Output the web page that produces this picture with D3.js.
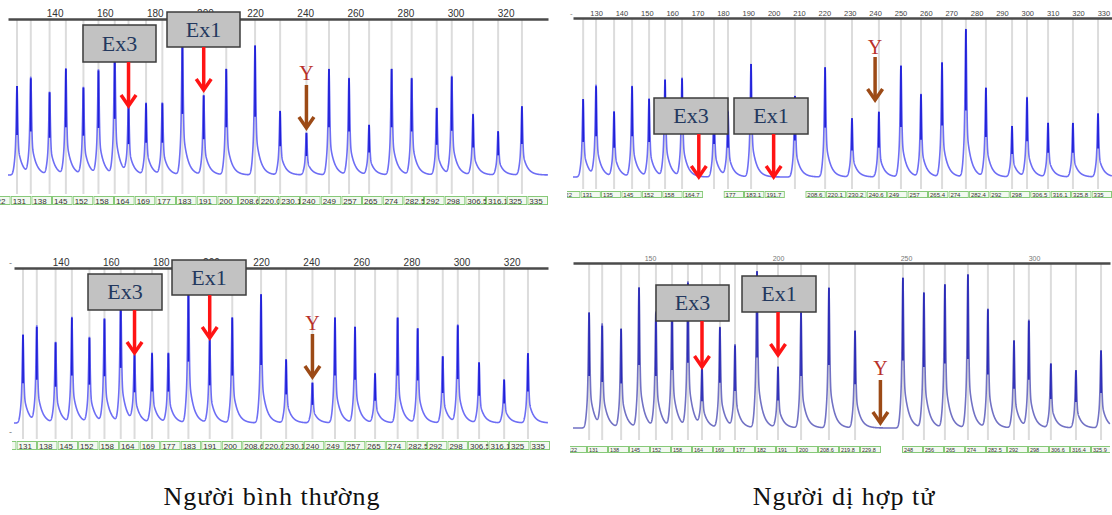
<!DOCTYPE html>
<html>
<head>
<meta charset="utf-8">
<script src="https://cdn.jsdelivr.net/npm/d3@7"></script>
<style>
body { margin: 0; background: #fff; }
svg { display: block; }
</style>
</head>
<body>
<svg id="chart" width="1112" height="515"></svg>
<script>
// peak sizes (bp) and peak heights (% of the panel height)
var normalSizes = [125, 130.5, 138, 144.5, 151.5, 157.5, 164, 169.5, 176.5, 183, 191, 199.5, 208.5, 220, 230, 240.5, 249.5, 257.5, 265.5, 274.5, 282.5, 292.5, 298.5, 307, 317, 326.5];
var normalHeightsTop = [57, 62, 53, 68, 56, 67, 80, 44, 46, 46, 87, 51, 68, 83, 41, 27, 68, 62, 32, 68, 62, 43, 63, 39, 28, 44];
var normalHeightsBottom = [57, 62, 52, 68, 55, 67, 79, 44, 45, 45, 88, 54, 68, 83, 41, 26, 68, 62, 32, 68, 61, 43, 63, 39, 28, 45];

var hetSizesTop = [124.9, 130, 137.1, 144.2, 150.9, 157.2, 163.9, 176.5, 182, 191.1, 208.4, 220.3, 230.9, 241.5, 250.2, 258.1, 266.4, 275.8, 283.7, 294, 299.9, 308.2, 318, 327.9];
var hetHeightsTop = [49, 57, 41, 57, 49, 61, 62, 46, 41, 71, 51, 69, 37, 41, 70, 52, 72, 93, 56, 32, 50, 34, 34, 40];

var hetSizesBottom = [126.2, 131.3, 138.7, 145.7, 152.3, 158.6, 164.8, 170.3, 177.3, 183.2, 191.8, 200, 209, 219.9, 230.1, 248.8, 257, 265.2, 274.2, 282, 292.2, 298, 306.6, 316.4, 326.2];
var hetHeightsBottom = [70, 62, 60, 85, 70, 78, 88, 36, 61, 50, 95, 37, 70, 85, 59, 91, 82, 87, 93, 72, 53, 65, 39, 35, 47];

// size call boxes under each trace ("" = no call)
var normalLabels = ["122", "131", "138", "145", "152", "158", "164", "169", "177", "183", "191", "200", "208.6", "220.0", "230.1", "240", "249", "257", "265", "274", "282.5", "292", "298", "306.5", "316.1", "325", "335"];
var hetLabelsTop = ["122", "131", "135", "145", "152", "158", "164.7", "", "177", "183.1", "191.7", "", "208.6", "220.1", "230.2", "240.6", "249", "257", "265.4", "274", "282.4", "292", "298", "306.5", "316.1", "325.8", "335"];
var hetLabelsBottom = ["122", "131", "138", "145", "152", "158", "164", "169", "177", "182", "191", "200", "208.6", "219.8", "229.8", "", "248", "256", "265", "274", "282.5", "292", "298", "306.6", "316.4", "325.9"];

var normalTicks = [140, 160, 180, 200, 220, 240, 260, 280, 300, 320];
var hetTicksTop = [130, 140, 150, 160, 170, 180, 190, 200, 210, 220, 230, 240, 250, 260, 270, 280, 290, 300, 310, 320, 330];
var hetTicksBottom = [150, 200, 250, 300];

var captions = ["Người bình thường", "Người dị hợp tử"];

var panels = [
	{sizes: normalSizes, heights: normalHeightsTop, labels: normalLabels, ticks: normalTicks,
	 domain: [121.4, 336.9], x0: 8, x1: 548, axisY: 19, base: 175, gridBottom: 194,
	 rowY: 196, rowH: 9, rowX: [-10, 548], clip: [0, 548], tickFont: 10, tickColor: "#333", labelFont: 8,
	 light: "#6e6ef4", dark: "#2020d8",
	 notes: [{t: "Ex3", bp: 169.5, box: [83, 25, 73, 37], a: [62, 106]},
	         {t: "Ex1", bp: 199.5, box: [167, 12, 73, 35], a: [47, 90]},
	         {t: "Y", bp: 240.5, ty: 73, a: [85, 128]}]},
	{sizes: hetSizesTop, heights: hetHeightsTop, labels: hetLabelsTop, ticks: hetTicksTop,
	 domain: [120.9, 333.4], x0: 573, x1: 1112, axisY: 18, base: 177, gridBottom: 189,
	 rowY: 191, rowH: 7, rowX: [560, 1112], clip: [567, 1112], tickFont: 7.5, tickColor: "#444", labelFont: 6,
	 light: "#6e6ef4", dark: "#2020d8",
	 notes: [{t: "Ex3", bp: 170.5, box: [654, 98, 74, 36], a: [134, 177]},
	         {t: "Ex1", bp: 200, box: [734, 98, 74, 36], a: [134, 177]},
	         {t: "Y", bp: 240, ty: 47, a: [57, 100]}]},
	{sizes: normalSizes, heights: normalHeightsBottom, labels: normalLabels, ticks: normalTicks,
	 domain: [121.4, 334.5], x0: 14, x1: 548, axisY: 268, base: 423, gridBottom: 439,
	 rowY: 441, rowH: 9, rowX: [-4, 550], clip: [12, 550], tickFont: 10, tickColor: "#333", labelFont: 8,
	 light: "#6e6ef4", dark: "#2020d8",
	 notes: [{t: "Ex3", bp: 169.5, box: [88, 274, 74, 36], a: [310, 353]},
	         {t: "Ex1", bp: 199.5, box: [172, 260, 74, 35], a: [295, 338]},
	         {t: "Y", bp: 240.5, ty: 323, a: [334, 377]}]},
	{sizes: hetSizesBottom, heights: hetHeightsBottom, labels: hetLabelsBottom, ticks: hetTicksBottom,
	 domain: [119.9, 329.7], x0: 573, x1: 1110, axisY: 263, base: 428, gridBottom: 440,
	 rowY: 446, rowH: 7, rowX: [566, 1112], clip: [570, 1110], tickFont: 7, tickColor: "#777", labelFont: 5.5,
	 light: "#7272c4", dark: "#2b2bb8",
	 notes: [{t: "Ex3", bp: 170.3, box: [656, 285, 73, 36], a: [321, 367]},
	         {t: "Ex1", bp: 200, box: [742, 276, 74, 36], a: [312, 355]},
	         {t: "Y", bp: 240, ty: 368, a: [380, 423]}]}
];

var svg = d3.select("#chart");

// one peak of the trace, d in pixels from the peak centre
function peakShape(d) {
	var core = Math.exp(-(d * d) / (2 * 0.7 * 0.7));
	var body = d < 0 ? Math.exp(-(d * d) / (2 * 1.9 * 1.9)) : Math.exp(-d / 4.5);
	return 0.62 * core + 0.38 * body;
}

function drawPanel(p) {
	var x = d3.scaleLinear().domain(p.domain).range([p.x0, p.x1]);
	var y = d3.scaleLinear().domain([0, 100]).range([p.base, p.axisY]);
	var k = (p.x1 - p.x0) / (p.domain[1] - p.domain[0]);
	var g = svg.append("g");

	// grey size grid
	g.selectAll(".grid")
		.data(p.sizes)
		.enter().append("line")
		.attr("x1", function(d) { return x(d); })
		.attr("x2", function(d) { return x(d); })
		.attr("y1", p.axisY + 1)
		.attr("y2", p.gridBottom)
		.attr("stroke", "#dcdcdc")
		.attr("stroke-width", 2);

	// trace
	var pts = [];
	for (var b = p.domain[0]; b <= p.domain[1]; b += 0.05) {
		var v = 0;
		for (var i = 0; i < p.sizes.length; i++) {
			var d = (b - p.sizes[i]) * k;
			if (d > -10 && d < 40) v += p.heights[i] * peakShape(d);
		}
		pts.push([b, v]);
	}
	g.append("path")
		.datum(pts)
		.attr("fill", "none")
		.attr("stroke", p.light)
		.attr("stroke-width", 1.6)
		.attr("d", d3.line()
			.x(function(d) { return x(d[0]); })
			.y(function(d) { return y(d[1]); }));

	// dark peak tips
	g.selectAll(".tip")
		.data(p.sizes)
		.enter().append("line")
		.attr("x1", function(d) { return x(d); })
		.attr("x2", function(d) { return x(d); })
		.attr("y1", function(d, i) { return y(p.heights[i]); })
		.attr("y2", function(d, i) { return y(p.heights[i] * 0.45); })
		.attr("stroke", p.dark)
		.attr("stroke-width", 1.8);

	// top axis
	var axis = g.append("g")
		.attr("transform", "translate(0," + p.axisY + ")")
		.call(d3.axisTop(x).tickValues(p.ticks).tickSize(0).tickSizeOuter(0).tickPadding(2));
	axis.select(".domain").attr("stroke", "#4a4a4a").attr("stroke-width", 2.5);
	axis.selectAll("text")
		.attr("font-family", "Liberation Sans, Arial, sans-serif")
		.attr("font-size", p.tickFont)
		.attr("fill", p.tickColor);

	// size call row
	var row = g.append("svg")
		.attr("x", p.clip[0]).attr("y", p.rowY - 1)
		.attr("width", p.clip[1] - p.clip[0]).attr("height", p.rowH + 2);
	var band = d3.scaleBand()
		.domain(d3.range(p.labels.length))
		.range([p.rowX[0] - p.clip[0], p.rowX[1] - p.clip[0]]);
	var cells = row.selectAll(".cell")
		.data(p.labels)
		.enter().filter(function(d) { return d !== ""; })
		.append("svg")
		.attr("x", function(d) { return band(p.labels.indexOf(d)); })
		.attr("y", 1)
		.attr("width", band.bandwidth())
		.attr("height", p.rowH);
	cells.append("rect")
		.attr("width", band.bandwidth()).attr("height", p.rowH)
		.attr("fill", "#86c978");
	cells.append("rect")
		.attr("x", 1).attr("y", 1)
		.attr("width", band.bandwidth() - 2).attr("height", p.rowH - 2)
		.attr("fill", "#f3f9f0");
	cells.append("text")
		.attr("x", 2)
		.attr("y", p.rowH - 1.5)
		.attr("font-family", "Liberation Sans, Arial, sans-serif")
		.attr("font-size", p.labelFont)
		.attr("fill", "#333")
		.text(function(d) { return d; });

	// annotations
	p.notes.forEach(function(n) {
		var ax = x(n.bp);
		var col = n.t == "Y" ? "#9c4a16" : "#ff1414";
		if (n.box) {
			g.append("rect")
				.attr("x", n.box[0]).attr("y", n.box[1])
				.attr("width", n.box[2]).attr("height", n.box[3])
				.attr("fill", "#c2c2c2")
				.attr("stroke", "#3c3c3c")
				.attr("stroke-width", 1.5);
			g.append("text")
				.attr("x", n.box[0] + n.box[2] / 2)
				.attr("y", n.box[1] + n.box[3] / 2 + 7)
				.attr("text-anchor", "middle")
				.attr("font-family", "Liberation Serif, Times New Roman, serif")
				.attr("font-size", 22)
				.attr("fill", "#23385e")
				.text(n.t);
		} else {
			g.append("text")
				.attr("x", ax)
				.attr("y", n.ty + 7)
				.attr("text-anchor", "middle")
				.attr("font-family", "Liberation Serif, Times New Roman, serif")
				.attr("font-size", 20)
				.attr("fill", "#b8302a")
				.text(n.t);
		}
		g.append("line")
			.attr("x1", ax).attr("x2", ax)
			.attr("y1", n.a[0]).attr("y2", n.a[1] - 1)
			.attr("stroke", col).attr("stroke-width", 3.5);
		g.append("path")
			.attr("d", "M" + (ax - 7.5) + "," + (n.a[1] - 11) + "L" + ax + "," + n.a[1] + "L" + (ax + 7.5) + "," + (n.a[1] - 11))
			.attr("fill", "none")
			.attr("stroke", col)
			.attr("stroke-width", 3.5)
			.attr("stroke-linejoin", "miter");
	});
}

panels.forEach(drawPanel);

// small stray marks at the left of the panels
svg.append("text").attr("x", 9).attr("y", 266).attr("font-size", 9).attr("fill", "#777").attr("font-family", "Liberation Sans, sans-serif").text("-");
svg.append("text").attr("x", 9).attr("y", 435).attr("font-size", 9).attr("fill", "#777").attr("font-family", "Liberation Sans, sans-serif").text("-");
svg.append("text").attr("x", 570).attr("y", 16).attr("font-size", 8).attr("fill", "#777").attr("font-family", "Liberation Sans, sans-serif").text("-");

svg.selectAll(".caption")
	.data(captions)
	.enter().append("text")
	.attr("x", function(d, i) { return i == 0 ? 272 : 844; })
	.attr("y", 505)
	.attr("text-anchor", "middle")
	.attr("font-family", "Liberation Serif, Times New Roman, serif")
	.attr("font-size", 26)
	.attr("letter-spacing", 1)
	.attr("fill", "#111")
	.text(function(d) { return d; });
</script>
</body>
</html>
